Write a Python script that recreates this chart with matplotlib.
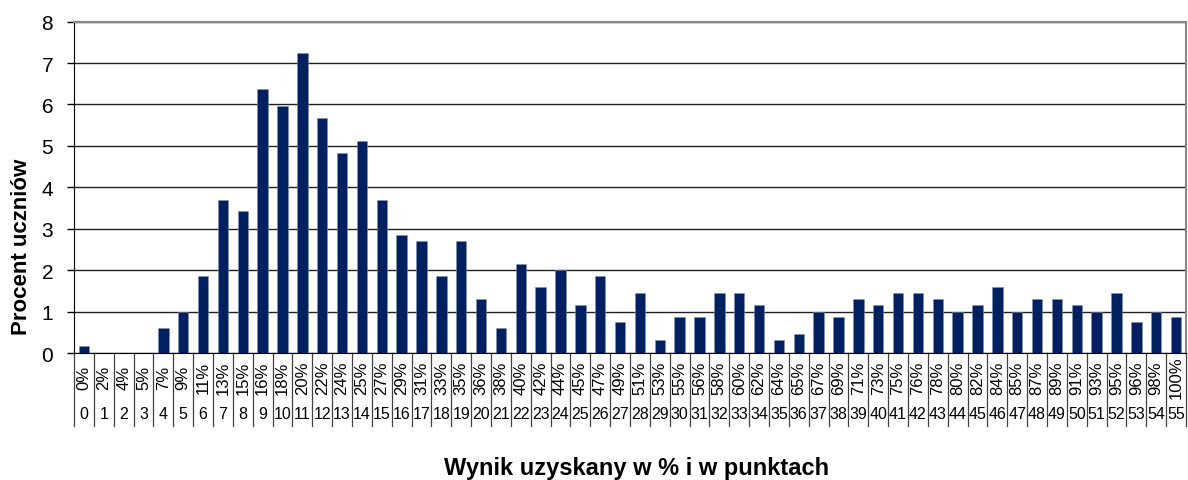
import matplotlib
matplotlib.use("Agg")
import matplotlib.pyplot as plt
import matplotlib.transforms as mtransforms

# wynik w punktach i w procentach
punkty = list(range(56))
procenty = ['0%', '2%', '4%', '5%', '7%', '9%', '11%', '13%', '15%', '16%',
            '18%', '20%', '22%', '24%', '25%', '27%', '29%', '31%', '33%', '35%',
            '36%', '38%', '40%', '42%', '44%', '45%', '47%', '49%', '51%', '53%',
            '55%', '56%', '58%', '60%', '62%', '64%', '65%', '67%', '69%', '71%',
            '73%', '75%', '76%', '78%', '80%', '82%', '84%', '85%', '87%', '89%',
            '91%', '93%', '95%', '96%', '98%', '100%']
# procent uczniow
uczniowie = [0.16, 0, 0, 0, 0.6, 1.0, 1.87, 3.7, 3.42, 6.38,
             5.96, 7.24, 5.68, 4.84, 5.11, 3.7, 2.85, 2.71, 1.87, 2.71,
             1.3, 0.6, 2.15, 1.59, 2.0, 1.16, 1.87, 0.74, 1.44, 0.31,
             0.88, 0.88, 1.44, 1.44, 1.16, 0.31, 0.46, 1.0, 0.88, 1.3,
             1.16, 1.44, 1.44, 1.3, 1.0, 1.16, 1.59, 1.0, 1.3, 1.3,
             1.16, 1.0, 1.44, 0.74, 1.0, 0.88]

plt.rcParams['font.family'] = ['Liberation Sans', 'DejaVu Sans']

fig = plt.figure(figsize=(11.88, 4.81), dpi=100)
ax = fig.add_axes([0.0623, 0.264, 0.936, 0.689])

ax.bar(punkty, uczniowie, width=0.52, color='#002060',
       edgecolor='#8090b0', linewidth=0.4, zorder=3)

ax.set_xlim(-0.5, len(punkty) - 0.5)
ax.set_ylim(0, 8)
ax.set_yticks(range(9))
ax.tick_params(axis='y', labelsize=15, direction='out', length=5, width=1,
               pad=10)
ax.yaxis.grid(True, color='#202020', linewidth=1, zorder=0)

ax.set_xticks([])
for side in ['top', 'right']:
    ax.spines[side].set_color('#888888')
    ax.spines[side].set_linewidth(1.5)
ax.spines['left'].set_color('black')
ax.spines['bottom'].set_color('black')

# etykiety kategorii (dwa poziomy) i linie podzialu
trans = mtransforms.blended_transform_factory(ax.transData, ax.transAxes)
for i in range(len(punkty) + 1):
    ax.plot([i - 0.5, i - 0.5], [0, -0.22], color='#404040', linewidth=0.9,
            transform=trans, clip_on=False)
for i, (p, pr) in enumerate(zip(punkty, procenty)):
    ax.text(i, -0.072, pr, transform=trans, rotation=90, ha='center',
            va='center', fontsize=12)
    ax.text(i, -0.184, str(p), transform=trans, ha='center', va='center',
            fontsize=11.5)

fig.text(0.0185, 0.487, 'Procent uczniów', rotation=90, ha='center',
         va='center', fontsize=16, fontweight='bold')
fig.text(0.536, 0.025, 'Wynik uzyskany w % i w punktach', ha='center',
         va='center', fontsize=17, fontweight='bold')

fig.savefig('out.png', dpi=100)
